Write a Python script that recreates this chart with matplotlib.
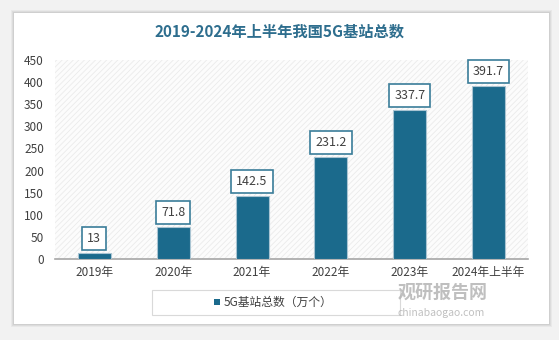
import matplotlib
matplotlib.use("Agg")
import matplotlib.pyplot as plt
from matplotlib.patches import Rectangle

plt.rcParams['font.family'] = ['Noto Sans CJK SC', 'DejaVu Sans']
plt.rcParams['hatch.color'] = '#ebebeb'
plt.rcParams['hatch.linewidth'] = 0.6

categories = ['2019年', '2020年', '2021年', '2022年', '2023年', '2024年上半年']
values = [13, 71.8, 142.5, 231.2, 337.7, 391.7]
labels = ['13', '71.8', '142.5', '231.2', '337.7', '391.7']
yticks = [0, 50, 100, 150, 200, 250, 300, 350, 400, 450]
title = '2019-2024年上半年我国5G基站总数'
legend_label = '5G基站总数（万个）'

W, H = 559, 340
fig = plt.figure(figsize=(W/100, H/100), dpi=100)
fig.patch.set_facecolor('#f2f2f2')

def fx(px): return px / W
def fy(py): return 1 - py / H

# card shadow + card
for i, a in enumerate([0.04, 0.05, 0.06]):
    d = 3 - i
    fig.patches.append(Rectangle((fx(14 - d), fy(324 + d)), fx(535 + 2*d), (311 + 2*d)/H,
                                 transform=fig.transFigure, facecolor='#000000', alpha=a,
                                 edgecolor='none', zorder=-3))
fig.patches.append(Rectangle((fx(14), fy(324)), fx(535), 311/H, transform=fig.transFigure,
                             facecolor='white', edgecolor='none', zorder=-2))

ax = fig.add_axes([fx(55), fy(259), fx(473), (259-60)/H])
ax.set_zorder(1)
ax.set_facecolor('#fcfcfc')
ax.add_patch(Rectangle((0, 0), 1, 1, transform=ax.transAxes, facecolor='none',
                       hatch='//////', edgecolor='#ebebeb', linewidth=0, zorder=0))

x = list(range(len(categories)))
bars = ax.bar(x, values, width=0.42, color='#1b6a8c', edgecolor='#a9c4d2', linewidth=0.8, zorder=3)

for xi, v, lab in zip(x, values, labels):
    ax.annotate(lab, (xi, v), xytext=(0, 10.5), textcoords='offset points', ha='center', va='center',
                fontsize=9, color='#404040', zorder=5,
                bbox=dict(boxstyle='square,pad=0.4', facecolor='white', edgecolor='#3a7d99', linewidth=1.2))

ax.set_xlim(-0.5, 5.5)
ax.set_ylim(0, 450)
ax.set_yticks(yticks)
ax.set_xticks(x)
ax.set_xticklabels(categories)
ax.tick_params(axis='y', length=0, labelsize=8.5, labelcolor='#404040', pad=8)
ax.tick_params(axis='x', length=0, labelsize=8.5, labelcolor='#404040', pad=5)
for s in ['top', 'right', 'left']:
    ax.spines[s].set_visible(False)
ax.spines['bottom'].set_color('#a6a6a6')
ax.spines['bottom'].set_linewidth(1.2)

fig.text(0.5, fy(32), title, ha='center', va='center', fontsize=11, color='#2e6e8e', fontweight='bold')

# legend
fig.patches.append(Rectangle((fx(152), fy(315)), fx(248), 25/H, transform=fig.transFigure,
                             facecolor='white', edgecolor='#d9d9d9', linewidth=0.8, zorder=2))
fig.patches.append(Rectangle((fx(214), fy(305)), fx(6), 6/H, transform=fig.transFigure,
                             facecolor='#1b6a8c', edgecolor='none', zorder=3))
fig.text(fx(224), fy(302.5), legend_label, ha='left', va='center', fontsize=8.5, color='#404040', zorder=3)

# watermark
fig.text(fx(398), fy(292), '观研报告网', ha='left', va='center', fontsize=13, color='#b0b0b0',
         fontweight='bold', alpha=0.8, zorder=4)
fig.text(fx(398), fy(313), 'chinabaogao.com', ha='left', va='center', fontsize=7.5, color='#b0b0b0',
         alpha=0.8, zorder=4)

fig.savefig('out.png', dpi=100, facecolor=fig.get_facecolor())
